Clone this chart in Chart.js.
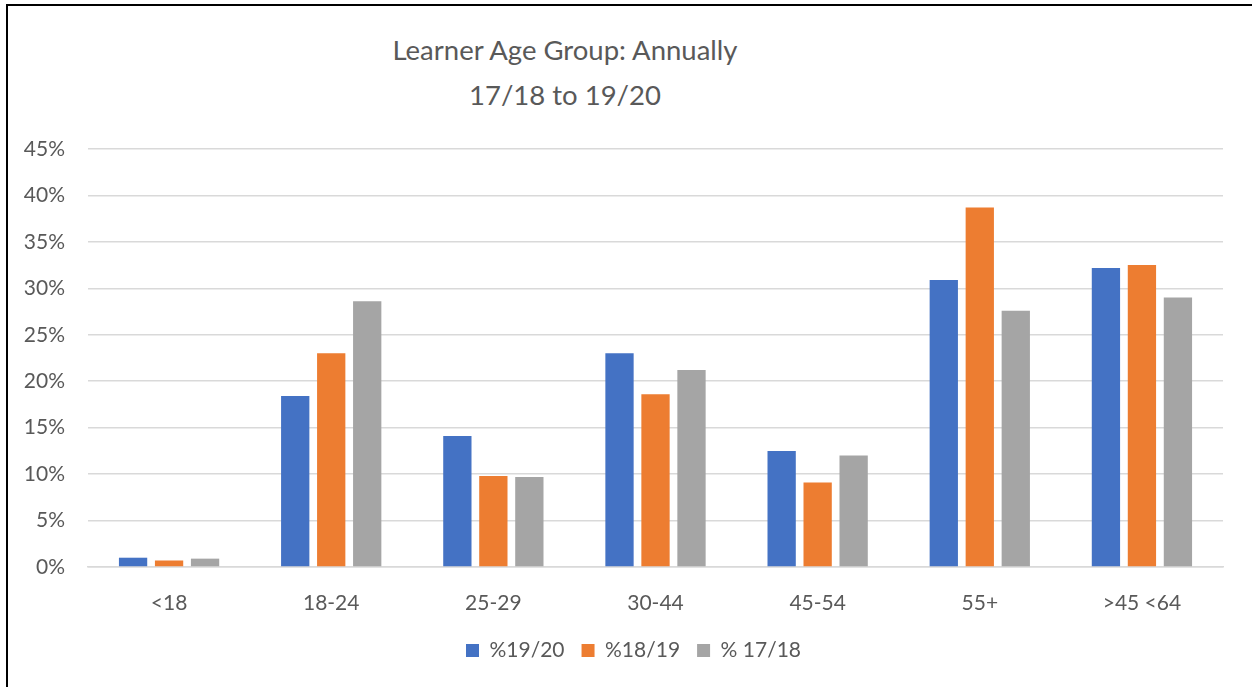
<!DOCTYPE html>
<html>
<head>
<meta charset="utf-8">
<script src="https://cdn.jsdelivr.net/npm/chart.js@4.4.7/dist/chart.umd.min.js"></script>
<style>
    html, body { margin: 0; padding: 0; background: #fff; overflow: hidden; width: 1252px; height: 687px; }
    #frame { position: absolute; left: 6px; top: 4px; width: 1400px; height: 800px; border-left: 2px solid #000; border-top: 2px solid #000; }
    #title { position: absolute; left: 0; top: 27px; width: 1130px; text-align: center; font-family: Lato; font-size: 27.5px; line-height: 45px; color: #595959; }
    #chart { position: absolute; left: 0; top: 0; }
</style>
</head>
<body>
<div id="frame"></div>
<div id="title">Learner Age Group: Annually<br>17/18 to 19/20</div>
<canvas id="chart" width="1268" height="687"></canvas>
<script>
// Age groups on the x axis
var categories = ['<18', '18-24', '25-29', '30-44', '45-54', '55+', '>45 <64'];

// Share of learners per year, in percent
var year1920 = [1.0, 18.4, 14.1, 23.0, 12.5, 30.9, 32.2];
var year1819 = [0.7, 23.0, 9.8, 18.6, 9.1, 38.7, 32.5];
var year1718 = [0.9, 28.6, 9.7, 21.2, 12.0, 27.6, 29.0];

var seriesLabels = ['%19/20', '%18/19', '% 17/18'];
var seriesColors = ['#4472C4', '#ED7D31', '#A5A5A5'];

// y axis ticks: 0% to 45% by 5%
var yMax = 45;
var yStep = 5;

var textColor = '#595959';
var font = { family: 'Lato', size: 21 };

function makeDataset(i, values) {
    return {
        label: seriesLabels[i],
        data: values,
        backgroundColor: seriesColors[i],
        borderWidth: 0,
        categoryPercentage: 0.666,
        barPercentage: 0.786
    };
}

// The original legend sits a bit right of the canvas centre: nudge it over.
var legendShift = {
    id: 'legendShift',
    afterLayout: function(chart) {
        chart.legend.left += 22;
        chart.legend.right += 22;
    }
};

var ctx = document.getElementById('chart');

var bar = new Chart(ctx, {
    type: 'bar',
    data: {
        labels: categories,
        datasets: [
            makeDataset(0, year1920),
            makeDataset(1, year1819),
            makeDataset(2, year1718)
        ]
    },
    options: {
        responsive: false,
        animation: false,
        layout: {
            padding: { left: 0, right: 45, top: 149, bottom: 16 }
        },
        scales: {
            x: {
                grid: { display: false },
                border: { color: '#D9D9D9', width: 1.5 },
                ticks: { color: textColor, font: font, padding: 16 },
                afterFit: function(scale) { scale.height = 56; }
            },
            y: {
                min: 0,
                max: yMax,
                grid: { color: '#D9D9D9', lineWidth: 1.5, drawTicks: false },
                border: { display: false },
                ticks: {
                    stepSize: yStep,
                    color: textColor,
                    font: font,
                    padding: 23,
                    callback: function(value) {
                        return value + '%';
                    }
                },
                afterFit: function(scale) { scale.width = 88; }
            }
        },
        plugins: {
            title: { display: false },
            tooltip: { enabled: false },
            legend: {
                display: true,
                position: 'bottom',
                labels: {
                    boxWidth: 13,
                    boxHeight: 13,
                    padding: 17,
                    color: textColor,
                    font: font
                }
            }
        }
    },
    plugins: [legendShift]
});
</script>
</body>
</html>
